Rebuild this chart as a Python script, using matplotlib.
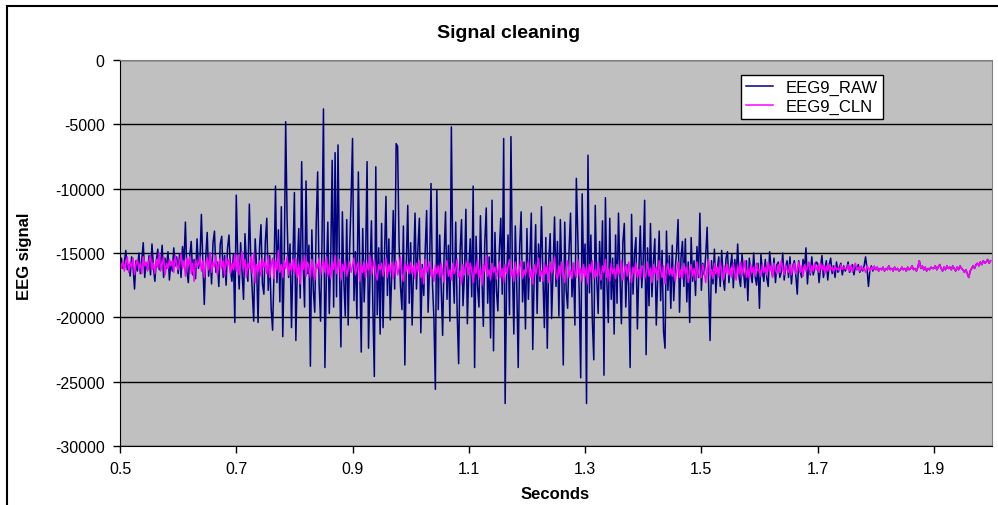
import numpy as np
import matplotlib
matplotlib.use('Agg')
import matplotlib.pyplot as plt
from matplotlib.patches import Rectangle

# sampling of the traces (seconds)
t_start = 0.5
t_step = 0.0025

# EEG9 cleaned trace, 0.500 .. 1.9975 s (one row = 50 ms)
eeg9_cln = [
    -15900, -16200, -15600, -16400, -15800, -15300, -16500, -15700, -16100, -15400, -16700, -15900, -15500, -16200, -15800, -16600, -15300, -16000, -15700, -16400,
    -15600, -15200, -16300, -15800, -16600, -15500, -16100, -15000, -16400, -15900, -15300, -16700, -15800, -16200, -15500, -16000, -15600, -16500, -15200, -15900,
    -16300, -15700, -15100, -16200, -15600, -16800, -15400, -16000, -15300, -16600, -15800, -17200, -15500, -16100, -15900, -15300, -16400, -15600, -16900, -15800,
    -15400, -16300, -15000, -16500, -15700, -16100, -15200, -16700, -15900, -15400, -16200, -15600, -16800, -15300, -16000, -15500, -16600, -15800, -16300, -15100,
    -16400, -15200, -16700, -15700, -14900, -16300, -15500, -16900, -15800, -16200, -15300, -16600, -15000, -17300, -15900, -16400, -15600, -16800, -15400, -16100,
    -15700, -16600, -15200, -16900, -16000, -15400, -17000, -15600, -16300, -14800, -16500, -15900, -16900, -15600, -16200, -15300, -16700, -15800, -16400, -15500,
    -16600, -15400, -16900, -15900, -17400, -15600, -16300, -15200, -16800, -15700, -16100, -16900, -15500, -16400, -17100, -15800, -16200, -15400, -16700, -16000,
    -15600, -16500, -15300, -16800, -15900, -17000, -15700, -16300, -15200, -16600, -16100, -15500, -17100, -15900, -16400, -15600, -16800, -16200, -15700, -16500,
    -16000, -15400, -16700, -16100, -15700, -17200, -15900, -16500, -15600, -16900, -15800, -16300, -15200, -16700, -16100, -15500, -16600, -17100, -15900, -16300,
    -15800, -16800, -16200, -15400, -16900, -15900, -16500, -15700, -17000, -16100, -15600, -16700, -16200, -15300, -16600, -17200, -15800, -16400, -15900, -16600,
    -15700, -16600, -16000, -17000, -15800, -16400, -15600, -16900, -16200, -17400, -15500, -16500, -16100, -15700, -16800, -16300, -17200, -15900, -16600, -16000,
    -16900, -15800, -16500, -17300, -16100, -15600, -16800, -16300, -17100, -15800, -16600, -16200, -15500, -16900, -16400, -17400, -15900, -16700, -16100, -15600,
    -16700, -15800, -16400, -17300, -16000, -16600, -15500, -16900, -16200, -17500, -15900, -16400, -15200, -16800, -16300, -17100, -15800, -16500, -16100, -17000,
    -16400, -15700, -16900, -16200, -17300, -15900, -16600, -16000, -15500, -16800, -16300, -17200, -15700, -16500, -16900, -16100, -15600, -17000, -16300, -16700,
    -16200, -15600, -16900, -16300, -17400, -15900, -16700, -16100, -15400, -16800, -16400, -17200, -15800, -16600, -16000, -17300, -15700, -16500, -16200, -15300,
    -16600, -17100, -16000, -16800, -15700, -16500, -17300, -16100, -15600, -16900, -16300, -17000, -15800, -16400, -16900, -15500, -16700, -16200, -17200, -15900,
    -16800, -16100, -17400, -15900, -16500, -15600, -17000, -16300, -16800, -15700, -16600, -17100, -16000, -16500, -15500, -16900, -16300, -17200, -15800, -16600,
    -16200, -17000, -15900, -16700, -16300, -15600, -17100, -16400, -16000, -16800, -15700, -16500, -17300, -16100, -16600, -15800, -16900, -16300, -17000, -16000,
    -16100, -17000, -16500, -15700, -16800, -16200, -17300, -15900, -16600, -16100, -17100, -15600, -16400, -16900, -16000, -17400, -16300, -15800, -16700, -16200,
    -16800, -16000, -17200, -16400, -15700, -16900, -16300, -17000, -15800, -16600, -16100, -17300, -16500, -15900, -16800, -16200, -17100, -15700, -16500, -16900,
    -16900, -15900, -16500, -17300, -16200, -15500, -16800, -16300, -17000, -15800, -16600, -16100, -16900, -15700, -16400, -17100, -16000, -16600, -15900, -16700,
    -16200, -16900, -15800, -16500, -17100, -16000, -16600, -15700, -16800, -16300, -15600, -16900, -16200, -17000, -15900, -16500, -16100, -16800, -15800, -16400,
    -16300, -16800, -15900, -16500, -16100, -16700, -15700, -16400, -16000, -16900, -15800, -16300, -16600, -15900, -16500, -15600, -16200, -16700, -15900, -16300,
    -16500, -15900, -16700, -16100, -15800, -16600, -16200, -15700, -16500, -16000, -16800, -15900, -16400, -16100, -15700, -16600, -16000, -16400, -15800, -16300,
    -16000, -16500, -15800, -16300, -15900, -16600, -16000, -16400, -15900, -16300, -16100, -16500, -16000, -16300, -16200, -16400, -15900, -16300, -16100, -16200,
    -16300, -15900, -16400, -16000, -16500, -16100, -15800, -16300, -16100, -16400, -16000, -16300, -16200, -16500, -16000, -16200, -16400, -16100, -16300, -16000,
    -16300, -16100, -16400, -16200, -16300, -16100, -16400, -16200, -16300, -16000, -16300, -16200, -16400, -16100, -16300, -16200, -16400, -16300, -16100, -16300,
    -16200, -16400, -16100, -16300, -16200, -16000, -16300, -16200, -16400, -16100, -15600, -16200, -16000, -16300, -16100, -16400, -16200, -16300, -16100, -16200,
    -16200, -16000, -16300, -16100, -15900, -16200, -16400, -16100, -16300, -16000, -16200, -16100, -16300, -16000, -16200, -16400, -16100, -16300, -16000, -16200,
    -16300, -16500, -16300, -16600, -16900, -16400, -16200, -16000, -16200, -15900, -15800, -16000, -15700, -15900, -15600, -15800, -15700, -15500, -15800, -15600,
]

# EEG9 raw trace, 0.500 .. 1.7975 s; later it lies on top of the cleaned one
eeg9_raw_head = [
    -15900, -15400, -16200, -15700, -14800, -16300, -15900, -16800, -15300, -16100, -17800, -15600, -16400, -15000, -16600, -15500, -14200, -16900, -15800, -16300,
    -15200, -16700, -14300, -16100, -17200, -15600, -14700, -16300, -15800, -14400, -16900, -15400, -16200, -14900, -17100, -15700, -16400, -14600, -16000, -15300,
    -16600, -15100, -16900, -14500, -15800, -12600, -16400, -17300, -15200, -14100, -16700, -15500, -17000, -13900, -16200, -15600, -12000, -15800, -19000, -15300,
    -13400, -16800, -15000, -17400, -14200, -13300, -16500, -15700, -17600, -14300, -13700, -16900, -15200, -17500, -14600, -13600, -16300, -17200, -15100, -20400,
    -10500, -15300, -17800, -14200, -16500, -18600, -13500, -15900, -17200, -11200, -15600, -17900, -20300, -13900, -16100, -20400, -14600, -12800, -17400, -18200,
    -14100, -12300, -17900, -15200, -19300, -21000, -16400, -9800, -17300, -13200, -18800, -11400, -21500, -15700, -4800, -12500, -16900, -14300, -20800, -15600,
    -10300, -21800, -16200, -13100, -18500, -7900, -15800, -19200, -9400, -16600, -14400, -23800, -13200, -17900, -19600, -12800, -8700, -17400, -20300, -14100,
    -3800, -23900, -16800, -12600, -19700, -15300, -7800, -19200, -7200, -18400, -6600, -15900, -22300, -11800, -17100, -19900, -12400, -20600, -14700, -10900,
    -6100, -18700, -14900, -20100, -8700, -16300, -22700, -13100, -18800, -15400, -7900, -22400, -16700, -12500, -19300, -24600, -8300, -19800, -14600, -21300,
    -12700, -20800, -15100, -10600, -18300, -13900, -20200, -16500, -11700, -17800, -6500, -6700, -14200, -17600, -19400, -12900, -23700, -15800, -11300, -18900,
    -14200, -20600, -16400, -11900, -17800, -14600, -12300, -21200, -15900, -18300, -14800, -11700, -19600, -16100, -9600, -17400, -20100, -25600, -10100, -19400,
    -13600, -17700, -21400, -15200, -11800, -18600, -14400, -20300, -5200, -16100, -18900, -12600, -19700, -23600, -14900, -12400, -19100, -16700, -11600, -20500,
    -16300, -13900, -18400, -9800, -23900, -13700, -17600, -19200, -12100, -16800, -20700, -14200, -11500, -18900, -15300, -21600, -10900, -22600, -13400, -17900,
    -19500, -14800, -12300, -18200, -6100, -26700, -17100, -13600, -19800, -5950, -16200, -21300, -12900, -17500, -23900, -14600, -11800, -18800, -15700, -20900,
    -13100, -18600, -15400, -11900, -22500, -16700, -12800, -19700, -14300, -17200, -11400, -16900, -20800, -13800, -22400, -15600, -13500, -20100, -16300, -12200,
    -17600, -14100, -19900, -12400, -16800, -23700, -12600, -17900, -19300, -14700, -11900, -18400, -15800, -20600, -9200, -13700, -18200, -24700, -10400, -16500,
    -14300, -26700, -7400, -18100, -13600, -20200, -23300, -11300, -16900, -19700, -14100, -17800, -12500, -24500, -10700, -17200, -20400, -12300, -18600, -15400,
    -21300, -13600, -18900, -11900, -16700, -20500, -14200, -12700, -19200, -15900, -17400, -23900, -12000, -18200, -15100, -13800, -20900, -16400, -12900, -17700,
    -15600, -10900, -22900, -14600, -19100, -12700, -18400, -15700, -13900, -20600, -16800, -13300, -18700, -14800, -21100, -22400, -13300, -17900, -15200, -19300,
    -14400, -18700, -16300, -14800, -12400, -19600, -15400, -14100, -17600, -13900, -18800, -15700, -20400, -13800, -17200, -15600, -18300, -14500, -16900, -11900,
    -17900, -15800, -16700, -15200, -13000, -17400, -21800, -15600, -17400, -14700, -18100, -16200, -15300, -17600, -14800, -16900, -17900, -15400, -14900, -17300,
    -16100, -15100, -17700, -15500, -16800, -14300, -16900, -17600, -15100, -16400, -17700, -15600, -18700, -15400, -16600, -17300, -15000, -16800, -17500, -15800,
    -19300, -15100, -16400, -17200, -15500, -16900, -17600, -14900, -16200, -16800, -15400, -17300, -15900, -15700, -16900, -16500, -15000, -17100, -16100, -15600,
    -16900, -15300, -17400, -16000, -15600, -16700, -18200, -15600, -16400, -16900, -15500, -16200, -14600, -17400, -15800, -16700, -15300, -16700, -16200, -15700,
    -15800, -17300, -16100, -15200, -16900, -16300, -15600, -17100, -15900, -15400, -16600, -16000, -16900, -15700, -16500, -16100, -15800, -16700, -16000, -16400,
    -16200, -15700, -16500, -16100, -15900, -16700, -16000, -16300, -15900, -16500, -16100, -16400, -16000, -15300, -16200, -17600, -16300, -16000, -16400, -16100,
]
eeg9_raw = eeg9_raw_head + eeg9_cln[len(eeg9_raw_head):]

y_ticks = [0, -5000, -10000, -15000, -20000, -25000, -30000]
x_ticks = [0.5, 0.7, 0.9, 1.1, 1.3, 1.5, 1.7, 1.9]


def plot_signal():
    plt.rcParams['font.family'] = ['Liberation Sans', 'DejaVu Sans']
    plt.rcParams['axes.unicode_minus'] = False
    W, H = 998, 506
    fig = plt.figure(figsize=(W / 100, H / 100), dpi=100)
    ax = fig.add_axes([120 / W, 1 - 447 / H, 872 / W, 386 / H])

    t = t_start + t_step * np.arange(len(eeg9_cln))

    ax.set_facecolor('#c0c0c0')
    ax.plot(t, eeg9_raw, color='#000080', lw=1.1, label='EEG9_RAW')
    ax.plot(t, eeg9_cln, color='#ff00ff', lw=1.1, label='EEG9_CLN')

    ax.set_xlim(0.5, 2.0)
    ax.set_ylim(-30000, 0)
    ax.set_xticks(x_ticks)
    ax.set_xticklabels([f'{v:.1f}' for v in x_ticks])
    ax.set_yticks(y_ticks)
    ax.tick_params(labelsize=11.5, length=5, width=1, direction='out', pad=6)
    ax.yaxis.grid(True, color='black', lw=1)
    ax.set_axisbelow(True)
    for side in ['top', 'right']:
        ax.spines[side].set_color('#808080')
    for side in ['left', 'bottom']:
        ax.spines[side].set_color('black')

    leg = ax.legend(loc='upper left', bbox_to_anchor=(741 / W, 1 - 76 / H),
                    bbox_transform=fig.transFigure, borderaxespad=0,
                    fancybox=False, framealpha=1, edgecolor='black',
                    fontsize=12, handlelength=1.6, handletextpad=0.8,
                    borderpad=0.3, labelspacing=0.2)
    leg.get_frame().set_linewidth(1)

    fig.text(509 / W, 1 - 34 / H, 'Signal cleaning', ha='center', va='center',
             fontsize=14, fontweight='bold')
    fig.text(555 / W, 1 - 495 / H, 'Seconds', ha='center', va='center',
             fontsize=12, fontweight='bold')
    fig.text(25 / W, 1 - 256 / H, 'EEG signal', ha='center', va='center',
             rotation=90, fontsize=12, fontweight='bold')

    # chart area frame
    fig.patches.append(Rectangle((7 / W, -0.05), 1.0, 1 - 7 / H + 0.05,
                                 transform=fig.transFigure, fill=False,
                                 edgecolor='black', lw=1.5))

    fig.savefig('out.png', dpi=100)
    plt.close(fig)


if __name__ == '__main__':
    plot_signal()
